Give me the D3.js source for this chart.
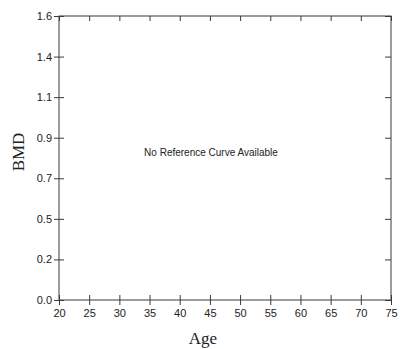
<!DOCTYPE html>
<html>
<head>
<meta charset="utf-8">
<script src="https://cdn.jsdelivr.net/npm/d3@7"></script>
<style>
  body { margin: 0; background: #fff; }
  text { fill: #222; }
</style>
</head>
<body>
<div id="chart"></div>
<script>
// Axis ranges and tick labels
const xTicks = [20, 25, 30, 35, 40, 45, 50, 55, 60, 65, 70, 75];
const yTickLabels = ["0.0", "0.2", "0.5", "0.7", "0.9", "1.1", "1.4", "1.6"];
const xDomain = [20, 75];
const yDomain = [0, 1.6];
const message = "No Reference Curve Available";

const width = 400, height = 349;
const margin = { top: 16, right: 9, bottom: 49, left: 59 };
const innerW = width - margin.left - margin.right;
const innerH = height - margin.top - margin.bottom;

const svg = d3.select("#chart").append("svg")
    .attr("width", width)
    .attr("height", height);

const g = svg.append("g")
    .attr("transform", `translate(${margin.left},${margin.top})`);

const x = d3.scaleLinear().domain(xDomain).range([0, innerW]);
const y = d3.scaleLinear().domain(yDomain).range([innerH, 0]);

// the y ticks are evenly spaced over 0..1.6 (7 steps), labels rounded to 1 decimal
const yTicks = yTickLabels.map((d, i) => yDomain[1] * i / (yTickLabels.length - 1));

const axisColor = "#3a3a3a";

// frame
g.append("rect")
    .attr("width", innerW)
    .attr("height", innerH)
    .attr("fill", "none")
    .attr("stroke", axisColor)
    .attr("stroke-width", 1);

// bottom axis, ticks cross the line
const xAxis = g.append("g")
    .attr("transform", `translate(0,${innerH})`)
    .call(d3.axisBottom(x).tickValues(xTicks).tickSize(5).tickPadding(4).tickFormat(d3.format("d")));
xAxis.selectAll(".tick line").attr("y1", -5);

// left axis
const yAxis = g.append("g")
    .call(d3.axisLeft(y).tickValues(yTicks).tickSize(5).tickPadding(2)
        .tickFormat((d, i) => yTickLabels[i]));
yAxis.selectAll(".tick line").attr("x1", 5);

// top and right inner ticks
g.append("g")
    .call(d3.axisTop(x).tickValues(xTicks).tickSize(-5).tickFormat(""));
g.append("g")
    .attr("transform", `translate(${innerW},0)`)
    .call(d3.axisRight(y).tickValues(yTicks).tickSize(-6).tickFormat(""));

g.selectAll(".domain").remove();
g.selectAll(".tick line").attr("stroke", axisColor);
g.selectAll(".tick text")
    .attr("font-family", "Liberation Sans, Arial, sans-serif")
    .attr("font-size", 11)
    .attr("fill", "#222");

// message in the middle
svg.append("text")
    .attr("x", 211)
    .attr("y", 156)
    .attr("text-anchor", "middle")
    .attr("font-family", "Liberation Sans, Arial, sans-serif")
    .attr("font-size", 10)
    .text(message);

// axis titles
svg.append("text")
    .attr("x", 203)
    .attr("y", 344)
    .attr("text-anchor", "middle")
    .attr("font-family", "Liberation Serif, Times New Roman, serif")
    .attr("font-size", 17)
    .text("Age");

svg.append("text")
    .attr("transform", "translate(24,152) rotate(-90)")
    .attr("text-anchor", "middle")
    .attr("font-family", "Liberation Serif, Times New Roman, serif")
    .attr("font-size", 17)
    .text("BMD");
</script>
</body>
</html>
